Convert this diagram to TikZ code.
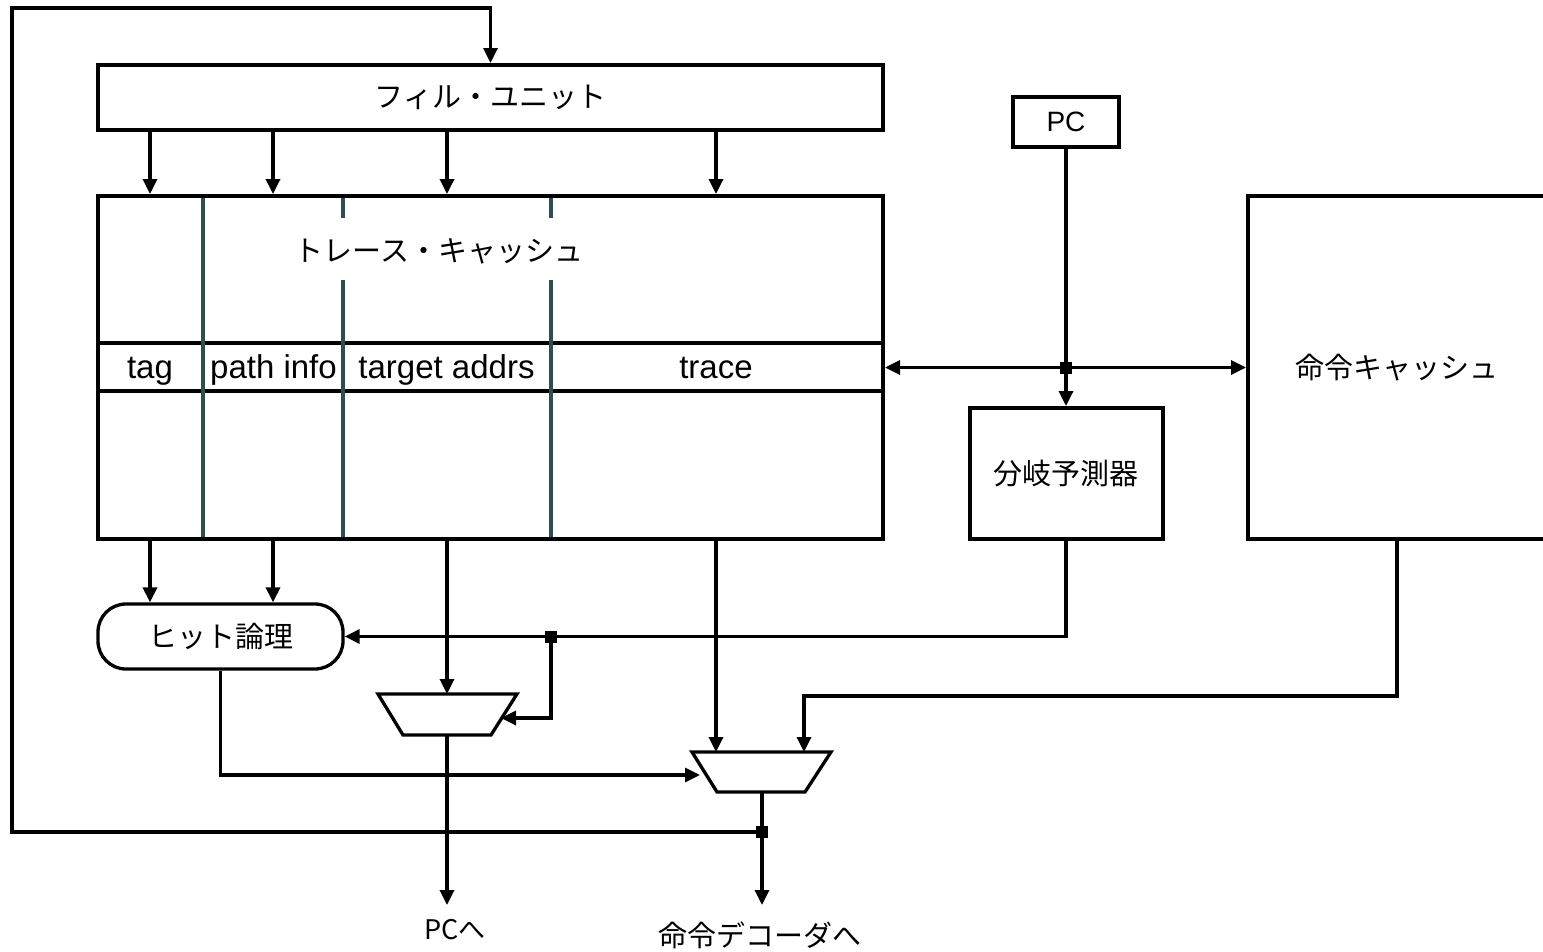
\documentclass[tikz,border=0pt]{standalone}
\usepackage{fontspec}
\setmainfont{Liberation Sans}
\newfontfamily\jp{Noto Sans CJK JP}
\usetikzlibrary{arrows.meta,calc}
\definecolor{colgray}{RGB}{47,79,79}
\begin{document}
\begin{tikzpicture}[x=1pt,y=-1pt,
  jpfont/.style={font=\jp\fontsize{29pt}{34pt}\selectfont},
  latfont/.style={font=\fontsize{33pt}{38pt}\selectfont},
  blk/.style={draw, line width=4pt, inner sep=0pt},
  wire/.style={line width=3.3pt},
  arr/.style={wire, -{Triangle[length=15pt,width=14pt]}},
  darr/.style={wire, {Triangle[length=15pt,width=14pt]}-{Triangle[length=15pt,width=14pt]}},
  dot/.style={fill=black, draw=none, minimum size=12pt, inner sep=0pt},
  rowline/.style={line width=3.3pt},
  colline/.style={draw=colgray, line width=3.3pt},
  muxs/.style={draw, line width=3.3pt, line join=miter},
  lbl/.style={inner sep=0pt}]
\useasboundingbox (0,0) rectangle (1543,951);
\clip (0,0) rectangle (1543,951);

% column x positions
\coordinate (xa) at (150,0);
\coordinate (xb) at (273,0);
\coordinate (xc) at (447,0);
\coordinate (xd) at (716,0);
\coordinate (xe) at (551,0);

% fill unit
\node[blk, jpfont, minimum width=785, minimum height=65] (fu) at (490.5,97.5) {フィル・ユニット};

% trace cache
\node[blk, minimum width=785, minimum height=343] (tc) at (490.5,367.5) {};
\draw[rowline] (98,343) -- (883,343);
\draw[rowline] (98,391) -- (883,391);
\draw[colline] (203,198) -- (203,537);
\draw[colline] (343,198) -- (343,218) (343,280) -- (343,537);
\draw[colline] (551,198) -- (551,218) (551,280) -- (551,537);
\node[lbl, jpfont] (tctext) at (439,251) {トレース・キャッシュ};
\node[lbl, latfont, anchor=base] (ltag) at (150,378) {tag};
\node[lbl, latfont, anchor=base] (lpath) at (273.5,378) {path info};
\node[lbl, latfont, anchor=base] (ltarget) at (446.5,378) {target addrs};
\node[lbl, latfont, anchor=base] (ltrace) at (716,378) {trace};

% PC, branch predictor, instruction cache
\node[blk, font=\fontsize{28pt}{32pt}\selectfont, minimum width=106, minimum height=50] (pc) at (1066,122) {PC};
\node[blk, jpfont, minimum width=193, minimum height=131] (bp) at (1066,473.5) {分岐予測器};
\node[blk, jpfont, minimum width=298, minimum height=343] (ic) at (1397,367.5) {命令キャッシュ};

% hit logic
\node[draw, line width=3.3pt, rounded corners=28pt, minimum width=245, minimum height=65, inner sep=0pt, jpfont] (hl) at (220.5,636.5) {ヒット論理};

% mux 1
\coordinate (m1n) at (447,694);
\coordinate (m1s) at (447,735);
\coordinate (m1r) at (501,718);
\draw[muxs] (378,694) -- (517,694) -- (491,735) -- (403,735) -- cycle;
% mux 2
\coordinate (m2n) at (716,752);
\coordinate (m2r) at (804,752);
\coordinate (m2l) at (700,775);
\coordinate (m2s) at (762,792);
\draw[muxs] (692,752) -- (831,752) -- (805,792) -- (717,792) -- cycle;

% outputs
\coordinate (out1) at (447,905);
\coordinate (out2) at (762,905);
\coordinate (fbx) at (12,8);
\node[lbl, font=\jp\fontsize{27pt}{32pt}\selectfont] (l1) at (455,930) {PCへ};
\node[lbl, jpfont] (l2) at (760,935) {命令デコーダへ};

% junctions
\node[dot] (j1) at (pc.south |- tc.east) {};
\node[dot] (j2) at (xe |- hl.east) {};
\node[dot] (j3) at (762,832) {};

% fill unit -> trace cache
\foreach \c in {xa,xb,xc,xd}
  \draw[arr] (fu.south -| \c) -- (tc.north -| \c);

% trace cache -> hit logic
\draw[arr] (tc.south -| xa) -- (hl.north -| xa);
\draw[arr] (tc.south -| xb) -- (hl.north -| xb);

% trace cache -> muxes
\draw[arr] (tc.south -| xc) -- (m1n);
\draw[arr] (tc.south -| xd) -- (m2n);

% PC -> branch predictor
\draw[arr] (pc.south) -- (bp.north);
% trace cache <-> instruction cache
\draw[darr] (tc.east) -- (ic.west);

% branch predictor -> hit logic, mux1
\draw[arr] (bp.south) |- (hl.east);
\draw[arr] (j2.center) |- (m1r);

% instruction cache -> mux2
\draw[arr] (ic.south) -- ++(0,155) -| (m2r);

% hit logic -> mux2
\draw[arr] (hl.south) |- (m2l);

% outputs
\draw[arr] (m1s) -- (out1);
\draw[arr] (m2s) -- (out2);

% feedback to fill unit
\draw[arr] (j3.center) -| (fbx) -| (fu.north);
\end{tikzpicture}
\end{document}
